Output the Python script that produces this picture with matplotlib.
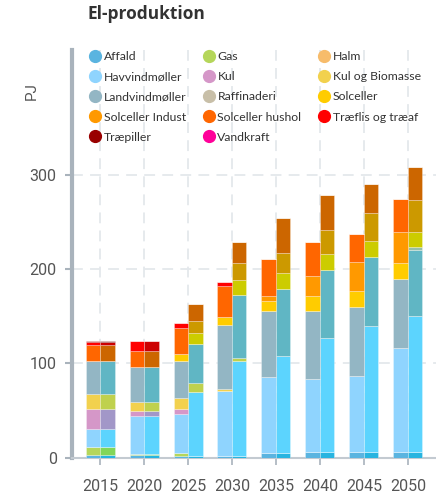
import numpy as np
import matplotlib.pyplot as plt
from matplotlib.lines import Line2D
import matplotlib.colors as mcolors

plt.rcParams['font.family'] = ['Roboto', 'DejaVu Sans']

years = ['2015', '2020', '2025', '2030', '2035', '2040', '2045', '2050']

categories = ['Affald', 'Gas', 'Halm', 'Havvindmøller', 'Kul', 'Kul og Biomasse',
              'Landvindmøller', 'Raffinaderi', 'Solceller', 'Solceller Indust',
              'Solceller hushol', 'Træflis og træaf', 'Træpiller', 'Vandkraft']

colors = ['#5ab4e0', '#b5d65a', '#f7bc6b', '#8fd4fe', '#d597c8', '#f2d14e',
          '#93b6c4', '#c8bfa8', '#ffcc00', '#ff9900', '#ff6600', '#ff0000',
          '#990000', '#ff0099']

# scenario 1 (left bar in each pair), PJ
affald_1 = [2.5, 3.0, 2.2, 2.0, 5.0, 6.0, 6.0, 6.0]
gas_1 = [9.2, 1.0, 2.4, 0, 0, 0, 0, 0]
halm_1 = [0, 0, 0, 0, 0, 0, 0, 0]
havvind_1 = [18.7, 40.3, 41.7, 69.0, 81.0, 77.5, 80.6, 110.7]
kul_1 = [20.9, 5.3, 5.3, 0, 0, 0, 0, 0]
kulbio_1 = [16.6, 9.9, 11.3, 1.5, 0, 0, 0, 0]
landvind_1 = [35.0, 37.0, 40.0, 68.2, 70.0, 72.1, 72.9, 72.4]
raff_1 = [0, 0, 0, 0, 0, 0, 0, 0]
sol_1 = [0, 0, 7.0, 8.2, 10.6, 15.9, 17.3, 17.0]
sol_indust_1 = [0, 0, 0, 0, 5.3, 21.5, 30.4, 33.6]
sol_hushol_1 = [17.0, 17.0, 28.0, 33.5, 38.6, 36.0, 30.0, 34.6]
traeflis_1 = [2.5, 10.0, 5.3, 4.3, 0, 0, 0, 0]
traepiller_1 = [1.5, 0, 0, 0, 0, 0, 0, 0]
vandkraft_1 = [0, 0, 0, 0, 0, 0, 0, 0]

# scenario 2 (right bar in each pair), PJ
affald_2 = [2.5, 3.0, 2.2, 2.0, 5.0, 6.0, 6.0, 6.0]
gas_2 = [9.2, 1.0, 0, 0, 0, 0, 0, 0]
halm_2 = [0, 0, 0, 0, 0, 0, 0, 0]
havvind_2 = [18.7, 40.3, 67.1, 101.0, 103.2, 121.3, 134.0, 144.6]
kul_2 = [20.9, 5.3, 0, 0, 0, 0, 0, 0]
kulbio_2 = [16.6, 9.9, 10.3, 2.4, 0, 0, 0, 0]
landvind_2 = [35.0, 37.0, 40.6, 67.1, 70.3, 71.7, 73.2, 69.7]
raff_2 = [0, 0, 0, 0, 0, 0, 0, 3.5]
sol_2 = [0, 0, 12.4, 15.9, 17.0, 17.0, 17.0, 15.9]
sol_indust_2 = [0, 0, 12.7, 17.7, 21.2, 25.5, 28.9, 33.6]
sol_hushol_2 = [17.0, 17.0, 17.3, 23.0, 37.1, 37.1, 30.8, 34.6]
traeflis_2 = [2.5, 10.0, 0, 0, 0, 0, 0, 0]
traepiller_2 = [1.5, 0, 0, 0, 0, 0, 0, 0]
vandkraft_2 = [0, 0, 0, 0, 0, 0, 0, 0]

series_1 = [affald_1, gas_1, halm_1, havvind_1, kul_1, kulbio_1, landvind_1, raff_1,
            sol_1, sol_indust_1, sol_hushol_1, traeflis_1, traepiller_1, vandkraft_1]
series_2 = [affald_2, gas_2, halm_2, havvind_2, kul_2, kulbio_2, landvind_2, raff_2,
            sol_2, sol_indust_2, sol_hushol_2, traeflis_2, traepiller_2, vandkraft_2]


def shade(c):
    # second scenario: same hue family, red channel pulled down
    r, g, b = mcolors.to_rgb(c)
    return (max(r - 0.2, 0), g, b)


fig = plt.figure(figsize=(4.36, 4.97), dpi=100)
ax = fig.add_axes([0.165, 0.079, 0.835, 0.82])

x = np.arange(len(years))
w = 0.33
bottom_1 = np.zeros(len(years))
bottom_2 = np.zeros(len(years))
for vals1, vals2, c in zip(series_1, series_2, colors):
    v1 = np.array(vals1, dtype=float)
    v2 = np.array(vals2, dtype=float)
    ax.bar(x - w / 2, v1, w, bottom=bottom_1, color=c,
           edgecolor=(1, 1, 1, 0.5), linewidth=0.4, zorder=3)
    ax.bar(x + w / 2, v2, w, bottom=bottom_2, color=shade(c),
           edgecolor=(1, 1, 1, 0.5), linewidth=0.4, zorder=3)
    bottom_1 += v1
    bottom_2 += v2

ax.set_xlim(-0.64, 7.64)
ax.set_ylim(0, 432)
ax.set_yticks([0, 100, 200, 300])
ax.set_xticks(x)
ax.set_xticklabels(years)

ax.grid(True, color='#e4e8ec', linestyle=(0, (6, 4)), linewidth=1.3, zorder=0)
for s in ['top', 'right']:
    ax.spines[s].set_visible(False)
ax.spines['left'].set_color('#a9b3bc')
ax.spines['left'].set_linewidth(3)
ax.spines['bottom'].set_color('#c3cad1')
ax.spines['bottom'].set_linewidth(1.5)
ax.tick_params(axis='y', colors='#a9b3bc', labelcolor='#555555', labelsize=11.5,
               length=5, width=1.5, pad=6)
ax.tick_params(axis='x', colors='#a9b3bc', labelcolor='#555555', labelsize=11.5,
               length=5, width=1.2, pad=10)

ax.set_ylabel('PJ', color='#555555', fontsize=11)
ax.yaxis.set_label_coords(-0.09, 0.9)

fig.text(0.2, 0.972, 'El-produktion', fontsize=12.5, fontweight='bold',
         color='#333333', family=['Open Sans', 'DejaVu Sans'], va='center', ha='left')

handles = [Line2D([], [], marker='o', linestyle='', markersize=8.5,
                  markerfacecolor=c, markeredgecolor=c) for c in colors]
# legend reads row by row; matplotlib fills columns first
order = [0, 3, 6, 9, 12, 1, 4, 7, 10, 13, 2, 5, 8, 11]
leg = ax.legend([handles[i] for i in order], [categories[i] for i in order],
                ncol=3, loc='upper left', bbox_to_anchor=(0.035, 1.01),
                frameon=False, handlelength=0.9,
                handletextpad=0.25, columnspacing=1.4, labelspacing=0.75,
                borderaxespad=0, prop={'family': ['Lato', 'DejaVu Sans'], 'size': 8.8})
for t in leg.get_texts():
    t.set_color('#333333')

fig.savefig('out.png', dpi=100)
